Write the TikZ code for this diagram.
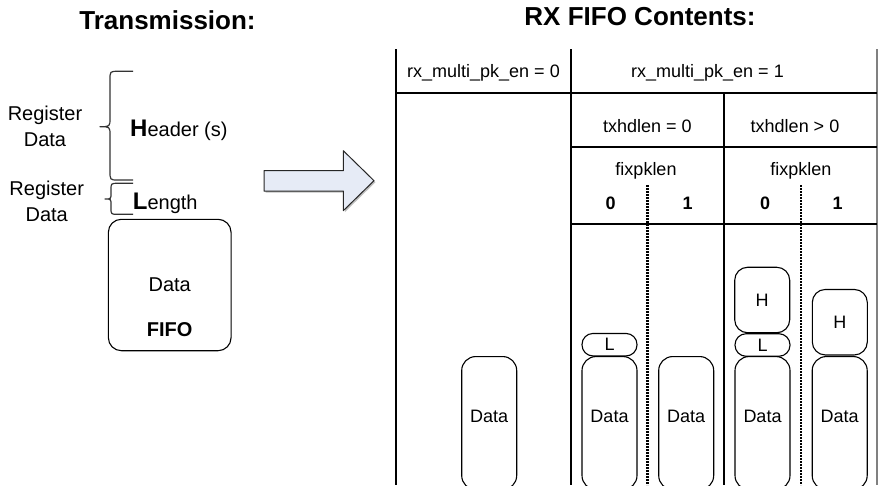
\documentclass[tikz,border=0pt]{standalone}
\usepackage{fontspec}
\setmainfont{Liberation Sans}
\definecolor{arrowfill}{RGB}{230,235,246}
\tikzstyle{Title}=[font=\fontsize{26}{30}\selectfont\bfseries, inner sep=0pt]
\tikzstyle{Side}=[font=\fontsize{20}{26}\selectfont, inner sep=0pt, align=center]
\tikzstyle{Cell}=[font=\fontsize{18}{22}\selectfont, inner sep=0pt]
\tikzstyle{Bit}=[font=\fontsize{18}{22}\selectfont\bfseries, inner sep=0pt]
\tikzstyle{FifoBox}=[draw=black, line width=1.1pt, rounded corners=13pt, minimum width=122.7pt, minimum height=131.4pt, inner sep=0pt, font=\fontsize{20}{24}\selectfont]
\tikzstyle{DataBox}=[draw=black, line width=1.1pt, rounded corners=14pt, minimum width=55pt, minimum height=133pt, anchor=north, text height=13pt, text depth=13.7pt, inner sep=0pt, font=\fontsize{18}{22}\selectfont]
\tikzstyle{LengthBox}=[draw=black, line width=1.1pt, rounded corners=11pt, minimum width=55pt, minimum height=22.5pt, inner sep=0pt, font=\fontsize{18}{22}\selectfont]
\tikzstyle{HeaderBox}=[draw=black, line width=1.1pt, rounded corners=13pt, minimum width=55pt, minimum height=65.5pt, inner sep=0pt, font=\fontsize{18}{22}\selectfont]
\tikzstyle{tableline}=[line width=1.7pt]
\tikzstyle{dotline}=[line width=2.6pt, dash pattern=on 2pt off 1pt]
\tikzstyle{bracket}=[line width=1.2pt, draw=black!80]
\begin{document}
\begin{tikzpicture}[x=1pt, y=-1pt, line join=round]
	\useasboundingbox (0,0) rectangle (880,485);
	\clip (0,0) rectangle (880,485);
	% titles
	\node [style=Title, anchor=base] (tx_title) at (167.5,29) {Transmission:};
	\node [style=Title, anchor=base] (rx_title) at (640,25) {RX FIFO Contents:};

	% transmission side
	\node [style=Side] (reg_header) at (45,126) {Register\\Data};
	\node [style=Side] (reg_length) at (46.7,201.4) {Register\\Data};
	\node [style=Side, anchor=base west] (header) at (130,136) {{\fontsize{24}{24}\selectfont\bfseries H}eader (s)};
	\node [style=Side, anchor=base west] (length) at (132.7,209.3) {{\fontsize{24}{24}\selectfont\bfseries L}ength};
	\node [style=FifoBox] (fifo) at (169.7,285) {Data};
	\node [style=Side, font=\fontsize{20}{24}\selectfont\bfseries] (fifo_label) at (169.7,330) {FIFO};
	\draw [style=bracket] (133,71.3) -- (118,71.3) .. controls (110,71.3) .. (110,80) -- (110,118) .. controls (110,126.7) .. (100,126.7)
		.. controls (110,126.7) .. (110,135.4) -- (110,171) .. controls (110,180) .. (118,180) -- (133,180);
	\draw [style=bracket] (133,183.3) -- (118,183.3) .. controls (111,183.3) .. (111,190) -- (111,193) .. controls (111,199) .. (105,199)
		.. controls (111,199) .. (111,205) -- (111,208) .. controls (111,214.3) .. (118,214.3) -- (133,214.3);

	% big arrow
	\fill [gray!50] (265.5,172.2) -- (344.8,172.2) -- (344.8,152.2) -- (375.5,182.2) -- (344.8,212.2) -- (344.8,192.5) -- (265.5,192.5) -- cycle;
	\draw [fill=arrowfill, draw=black!85, line width=1pt] (264,170.7) -- (343.3,170.7) -- (343.3,150.7) -- (374,180.7) -- (343.3,210.7) -- (343.3,191) -- (264,191) -- cycle;

	% table
	\draw [style=tableline] (396,49) -- (396,485);
	\draw [style=tableline] (571.3,49) -- (571.3,485);
	\draw [style=tableline] (724.3,92.7) -- (724.3,485);
	\draw [style=tableline, draw=gray] (876.7,49) -- (876.7,485);
	\draw [style=tableline] (396,92.7) -- (877,92.7);
	\draw [style=tableline] (571.3,147.3) -- (877,147.3);
	\draw [style=tableline] (571.3,224.3) -- (877,224.3);
	\foreach \x in {647.7, 801} {
		\draw [style=dotline] (\x,185) -- (\x,485);
	}
	\node [style=Cell, anchor=base] (multi_off) at (483.5,77.7) {rx\_multi\_pk\_en = 0};
	\node [style=Cell, anchor=base] (multi_on) at (707.5,77.7) {rx\_multi\_pk\_en = 1};
	\node [style=Cell, anchor=base] (hdlen_zero) at (647.3,132.3) {txhdlen = 0};
	\node [style=Cell, anchor=base] (hdlen_pos) at (795,132.3) {txhdlen > 0};
	\node [style=Cell, anchor=base] (fix_zero) at (646,175) {fixpklen};
	\node [style=Cell, anchor=base] (fix_pos) at (800.8,175) {fixpklen};
	\node [style=Bit, anchor=base] (bit_a0) at (610.7,209.3) {0};
	\node [style=Bit, anchor=base] (bit_a1) at (687.7,209.3) {1};
	\node [style=Bit, anchor=base] (bit_b0) at (765,209.3) {0};
	\node [style=Bit, anchor=base] (bit_b1) at (837.7,209.3) {1};

	% fifo contents
	\node [style=DataBox] (data_single) at (489.2,356) {Data};
	\node [style=DataBox] (data_a0) at (609.5,356) {Data};
	\node [style=LengthBox] (len_a0) at (609.5,344.7) {L};
	\node [style=DataBox] (data_a1) at (686.2,356) {Data};
	\node [style=DataBox] (data_b0) at (762.5,356) {Data};
	\node [style=LengthBox] (len_b0) at (762.5,345) {L};
	\node [style=HeaderBox] (hdr_b0) at (762.2,300) {H};
	\node [style=DataBox] (data_b1) at (839.7,356) {Data};
	\node [style=HeaderBox] (hdr_b1) at (839.8,322.2) {H};
\end{tikzpicture}
\end{document}
